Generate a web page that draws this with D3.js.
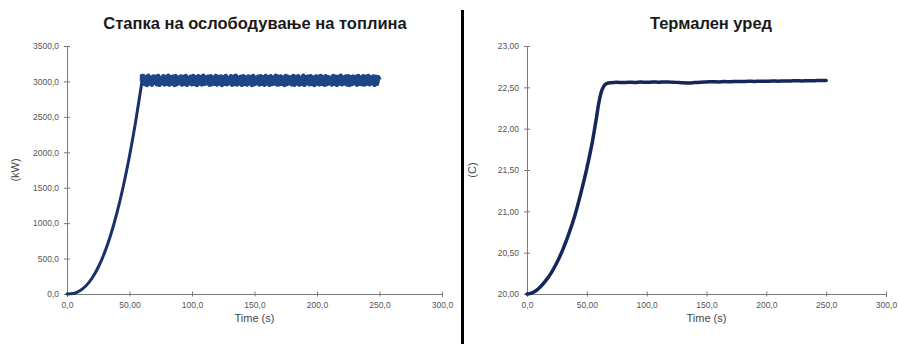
<!DOCTYPE html>
<html>
<head>
<meta charset="utf-8">
<script src="https://cdn.jsdelivr.net/npm/d3@7/dist/d3.min.js"></script>
<style>
  html, body { margin: 0; padding: 0; background: #fff; }
  svg { display: block; }
  .tick text { font-family: "Liberation Sans", Arial, sans-serif; font-size: 8.5px; fill: #555; }
</style>
</head>
<body>
<svg id="chart" width="899" height="344"></svg>
<script>
// ---------------- DATA ----------------
const titleHeat = "Стапка на ослободување на топлина";
const titleTemp = "Термален уред";
const xLabel = "Time (s)";
const yLabelHeat = "(kW)";
const yLabelTemp = "(C)";

const xTicks = [0, 50, 100, 150, 200, 250, 300];
const xTickLabels = ["0,0", "50,00", "100,0", "150,0", "200,0", "250,0", "300,0"];
const heatTicks = [0, 500, 1000, 1500, 2000, 2500, 3000, 3500];
const heatTickLabels = ["0,0", "500,0", "1000,0", "1500,0", "2000,0", "2500,0", "3000,0", "3500,0"];
const tempTicks = [20.0, 20.5, 21.0, 21.5, 22.0, 22.5, 23.0];
const tempTickLabels = ["20,00", "20,50", "21,00", "21,50", "22,00", "22,50", "23,00"];

// Heat release: growth phase
const heatRiseTime = [0, 5, 10, 15, 20, 25, 30, 35, 40, 45, 50, 55, 60];
const heatRiseValue = [0, 8, 43, 112, 222, 377, 580, 836, 1148, 1517, 1947, 2441, 3000];
// Heat release: steady (noisy) phase, one sample per second from t = 61 s to 250 s
const heatBandStart = 61;
const heatBandValue = [
  3075, 2965, 3060, 2950, 3080, 2970, 3050, 2955, 3070, 2980,
  3065, 2960, 3078, 2952, 3045, 2975, 3072, 2958, 3062, 2968,
  3080, 2955, 3058, 2972, 3068, 2950, 3075, 2962, 3052, 2978,
  3070, 2956, 3064, 2966, 3078, 2952, 3048, 2974, 3066, 2960,
  3076, 2964, 3056, 2950, 3072, 2970, 3060, 2958, 3080, 2966,
  3054, 2976, 3068, 2954, 3074, 2962, 3050, 2968, 3078, 2956,
  3062, 2972, 3070, 2950, 3058, 2966, 3076, 2960, 3046, 2978,
  3072, 2954, 3066, 2964, 3080, 2958, 3052, 2970, 3064, 2952,
  3074, 2968, 3056, 2956, 3070, 2974, 3062, 2950, 3078, 2962,
  3048, 2976, 3068, 2958, 3074, 2966, 3058, 2954, 3076, 2970,
  3060, 2952, 3072, 2964, 3050, 2972, 3080, 2956, 3066, 2960,
  3070, 2968, 3054, 2950, 3078, 2962, 3064, 2974, 3056, 2958,
  3076, 2954, 3062, 2970, 3072, 2956, 3048, 2966, 3080, 2952,
  3058, 2976, 3068, 2960, 3074, 2964, 3052, 2950, 3070, 2972,
  3064, 2958, 3078, 2968, 3056, 2954, 3072, 2962, 3060, 2974,
  3050, 2956, 3076, 2966, 3066, 2952, 3062, 2970, 3080, 2960,
  3054, 2972, 3070, 2958, 3074, 2950, 3058, 2964, 3068, 2976,
  3062, 2954, 3078, 2968, 3052, 2962, 3072, 2956, 3064, 2970,
  3076, 2960, 3056, 2974, 3070, 2952, 3066, 2966, 3060, 3020
];

// Thermal device temperature
const tempTime = [0, 2.5, 5, 7.5, 10, 15, 20, 25, 30, 35, 40, 45, 50, 55, 58, 60, 62, 64, 66, 68,
  70, 75, 80, 85, 90, 95, 100, 105, 110, 115, 120, 125, 130, 135, 140, 145, 150, 155, 160,
  165, 170, 175, 180, 185, 190, 195, 200, 205, 210, 215, 220, 225, 230, 235, 240, 245, 250];
const tempValue = [20.00, 20.005, 20.02, 20.04, 20.07, 20.15, 20.25, 20.38, 20.54, 20.73, 20.95, 21.22, 21.52, 21.87, 22.13, 22.31, 22.44, 22.51, 22.54, 22.553,
  22.556, 22.560, 22.557, 22.562, 22.559, 22.564, 22.560, 22.565, 22.562, 22.566, 22.563, 22.560, 22.555, 22.553, 22.557, 22.562, 22.565, 22.568, 22.566,
  22.570, 22.568, 22.572, 22.570, 22.574, 22.572, 22.575, 22.573, 22.577, 22.575, 22.578, 22.577, 22.580, 22.578, 22.581, 22.580, 22.583, 22.582];

// ---------------- DRAWING ----------------
const svg = d3.select("#chart");
svg.append("rect").attr("width", 899).attr("height", 344).attr("fill", "#fff");

const fontFamily = '"Liberation Sans", Arial, sans-serif';

function panel(cfg) {
  const g = svg.append("g");
  const x = d3.scaleLinear().domain([0, 300]).range([cfg.x0, cfg.x1]);
  const y = d3.scaleLinear().domain(cfg.yDomain).range([cfg.y0, cfg.y1]);

  g.append("text").attr("x", cfg.titleX).attr("y", 29)
    .attr("text-anchor", "middle")
    .attr("font-family", fontFamily).attr("font-weight", "bold").attr("font-size", "16.5px")
    .attr("fill", "#1a1a1a").text(cfg.title);

  const xa = g.append("g").attr("transform", `translate(0,${cfg.y0})`)
    .call(d3.axisBottom(x).tickValues(xTicks).tickFormat((d, i) => xTickLabels[i]).tickSizeOuter(0).tickSize(3).tickPadding(5));
  xa.select(".domain").attr("stroke", "#7a7a7a");
  xa.selectAll(".tick line").attr("y1", -2.5).attr("y2", 2.5).attr("stroke", "#7a7a7a");

  const ya = g.append("g").attr("transform", `translate(${cfg.x0},0)`)
    .call(d3.axisLeft(y).tickValues(cfg.yTicks).tickFormat((d, i) => cfg.yTickLabels[i]).tickSizeOuter(0).tickSize(3).tickPadding(5));
  ya.select(".domain").attr("stroke", "#7a7a7a");
  ya.selectAll(".tick line").attr("x1", -3).attr("x2", 3).attr("stroke", "#7a7a7a");

  g.append("text").attr("x", (cfg.x0 + cfg.x1) / 2).attr("y", 322)
    .attr("text-anchor", "middle").attr("font-family", fontFamily).attr("font-size", "11px")
    .attr("fill", "#444").text(xLabel);
  g.append("text").attr("transform", `translate(${cfg.yLabelX},${(cfg.y0 + cfg.y1) / 2}) rotate(-90)`)
    .attr("text-anchor", "middle").attr("font-family", fontFamily).attr("font-size", "11px")
    .attr("fill", "#444").text(cfg.yLabel);

  return { g, x, y };
}

// Left panel: heat release rate
const L = panel({
  x0: 67, x1: 442, y0: 294, y1: 46, yDomain: [0, 3500],
  yTicks: heatTicks, yTickLabels: heatTickLabels,
  title: titleHeat, titleX: 255, yLabel: yLabelHeat, yLabelX: 19
});
const riseLine = d3.line().x((d, i) => L.x(heatRiseTime[i])).y(d => L.y(d)).curve(d3.curveMonotoneX);
L.g.append("path").attr("d", riseLine(heatRiseValue))
  .attr("fill", "none").attr("stroke", "#1b2f6a").attr("stroke-width", 3).attr("stroke-linecap", "round");
const bandSeries = [[60, heatRiseValue[heatRiseValue.length - 1]], [60, heatBandValue[0]]]
  .concat(heatBandValue.map((v, i) => [heatBandStart + i, v]));
L.g.append("path").attr("d", d3.line().x(d => L.x(d[0])).y(d => L.y(d[1]))(bandSeries))
  .attr("fill", "none").attr("stroke", "#1e4586").attr("stroke-width", 4.5).attr("stroke-linejoin", "round");

// Right panel: thermal device
const R = panel({
  x0: 527, x1: 886, y0: 294, y1: 46, yDomain: [20, 23],
  yTicks: tempTicks, yTickLabels: tempTickLabels,
  title: titleTemp, titleX: 711, yLabel: yLabelTemp, yLabelX: 476
});
const tempLine = d3.line().x((d, i) => R.x(tempTime[i])).y(d => R.y(d)).curve(d3.curveMonotoneX);
R.g.append("path").attr("d", tempLine(tempValue))
  .attr("fill", "none").attr("stroke", "#15275a").attr("stroke-width", 3.5).attr("stroke-linecap", "round");

// divider
svg.append("rect").attr("x", 461).attr("y", 10).attr("width", 3).attr("height", 334).attr("fill", "#000");
</script>
</body>
</html>
